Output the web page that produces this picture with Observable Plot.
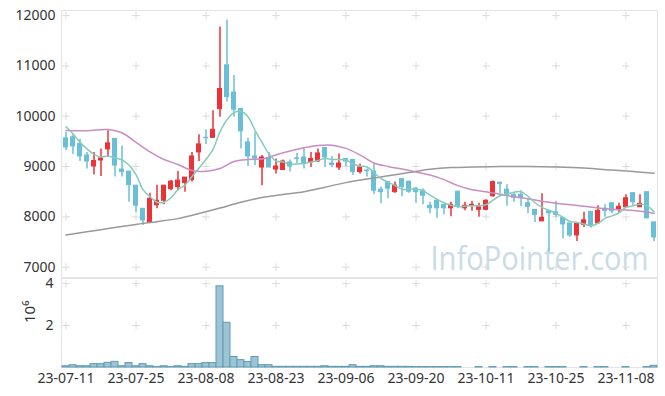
<!DOCTYPE html>
<html><head><meta charset="utf-8">
<script src="https://cdn.jsdelivr.net/npm/d3@7"></script>
<script src="https://cdn.jsdelivr.net/npm/@observablehq/plot@0.6"></script>
<style>
body{margin:0;background:#fff;font-family:"Noto Sans",sans-serif;}
#wrap{position:relative;width:665px;height:396px;overflow:hidden;}
#wrap svg{position:absolute;left:0;}
</style></head><body><div id="wrap"></div>
<script>
const dates = ["23-07-11","23-07-12","23-07-13","23-07-14","23-07-17","23-07-18","23-07-19","23-07-20","23-07-21","23-07-24",
"23-07-25","23-07-26","23-07-27","23-07-28","23-07-31","23-08-01","23-08-02","23-08-03","23-08-04","23-08-07",
"23-08-08","23-08-09","23-08-10","23-08-11","23-08-14","23-08-16","23-08-17","23-08-18","23-08-21","23-08-22",
"23-08-23","23-08-24","23-08-25","23-08-28","23-08-29","23-08-30","23-08-31","23-09-01","23-09-04","23-09-05",
"23-09-06","23-09-07","23-09-08","23-09-11","23-09-12","23-09-13","23-09-14","23-09-15","23-09-18","23-09-19",
"23-09-20","23-09-21","23-09-22","23-09-25","23-09-26","23-09-27","23-10-04","23-10-05","23-10-06","23-10-10",
"23-10-11","23-10-12","23-10-13","23-10-16","23-10-17","23-10-18","23-10-19","23-10-20","23-10-23","23-10-24",
"23-10-25","23-10-26","23-10-27","23-10-30","23-10-31","23-11-01","23-11-02","23-11-03","23-11-06","23-11-07",
"23-11-08","23-11-09","23-11-10","23-11-13","23-11-14"];
const opens = [9560,9580,9450,9220,9000,9120,9340,9550,8940,8900,
8620,8160,7890,8230,8320,8550,8590,8670,8730,9280,
9570,9570,10140,11010,10470,10140,9480,9200,8980,9170,
8940,8930,9080,9160,9180,9080,9100,9370,9060,8980,
9150,9130,8890,8920,8900,8540,8690,8490,8750,8700,
8560,8520,8220,8320,8240,8170,8500,8170,8220,8140,
8140,8410,8680,8540,8430,8440,8270,8140,7910,8110,
8090,7980,7870,7630,7840,8100,7870,8160,8270,8140,
8190,8470,8190,8490,7890];
const highs = [9680,9630,9540,9280,9280,9350,9710,9550,9410,8900,
8620,8160,8470,8630,8620,8720,8900,8780,9280,9630,
9730,10110,11770,11910,10810,10160,9560,9670,9220,9280,
9150,9130,9130,9260,9370,9280,9350,9370,9200,9250,
9150,9130,9050,8950,9050,8590,8690,8690,8750,8700,
8590,8560,8290,8320,8240,8290,8500,8290,8310,8270,
8340,8710,8680,8640,8490,8520,8360,8140,8460,8110,
8310,7980,7870,7860,8090,8100,8220,8240,8270,8270,
8440,8470,8440,8490,7890];
const lows = [9320,9240,9100,8950,8830,8800,9180,8790,8790,8290,
8080,7830,7890,8160,8240,8520,8520,8490,8690,9100,
9440,9570,9980,10280,9980,9350,9000,9020,8620,8980,
8850,8920,8890,9060,8950,8980,9080,8980,8980,8920,
9000,8820,8850,8790,8440,8260,8360,8470,8400,8470,
8270,8240,8060,7970,8040,8000,8160,8120,8110,7990,
8120,8390,8460,8210,8290,8200,8060,7890,7910,7300,
7990,7560,7590,7510,7790,7780,7870,7990,8060,8070,
8190,8220,8190,7960,7510];
const closes = [9380,9400,9200,9100,9110,9160,9460,9020,8890,8630,
8220,7930,8360,8320,8620,8700,8720,8780,9200,9440,
9560,9730,10540,10380,10130,9700,9200,9160,9180,8980,
9000,9100,9000,9150,9060,9150,9260,9180,9030,9060,
9100,8890,8980,8910,8520,8490,8560,8620,8590,8500,
8490,8420,8170,8170,8170,8240,8220,8220,8240,8190,
8320,8690,8650,8420,8380,8380,8200,8040,7980,8070,
8040,7850,7630,7860,7930,7830,8120,8120,8110,8200,
8370,8290,8260,7970,7590];
const ma5 = [9790,9650,9480,9350,9240,9190,9210,9170,9130,9030,
8840,8540,8400,8290,8290,8380,8540,8630,8800,8970,
9140,9340,9690,9930,10070,10100,9990,9720,9480,9250,
9110,9090,9050,9050,9060,9090,9120,9160,9140,9140,
9130,9050,9010,8990,8880,8760,8690,8620,8550,8550,
8550,8520,8430,8350,8280,8230,8200,8210,8220,8220,
8240,8330,8420,8450,8490,8500,8410,8280,8190,8130,
8070,7990,7910,7890,7860,7820,7870,7970,8020,8080,
8190,8220,8250,8220,8100];
const ma20Idx = [0,3,6,8,10,12,14,16,18,20,22,24,26,28,30,32,34,36,38,40,42,44,46,48,50,52,54,56,58,60,62,64,66,68,70,72,74,76,78,80,82,84];
const ma20Val = [9714,9710,9735,9670,9480,9290,9140,9040,8920,8905,8960,9100,9140,9150,9230,9310,9375,9420,9425,9360,9230,9070,9000,8950,8890,8830,8740,8620,8540,8500,8450,8400,8360,8310,8270,8240,8210,8175,8150,8135,8110,8070];
const ma60Idx = [0,5,10,13,16,19,22,25,28,31,34,37,40,43,46,49,52,55,58,62,66,70,74,78,81,84];
const ma60Val = [7640,7745,7850,7905,7965,8065,8175,8290,8385,8445,8500,8590,8680,8750,8815,8880,8945,8980,8990,9000,9000,8990,8970,8930,8900,8865];
const volumes = [0.06,0.11,0.06,0.06,0.16,0.16,0.22,0.27,0.06,0.21,
0.06,0.16,0.06,0.02,0.06,0.02,0.06,0.03,0.16,0.16,
0.21,0.21,3.87,2.13,0.50,0.35,0.26,0.50,0.11,0.11,
0.03,0.03,0.03,0.03,0.03,0.03,0.03,0.06,0.03,0.03,
0.03,0.11,0.03,0.03,0.06,0.06,0.03,0.03,0.03,0.03,
0.02,0.02,0.02,0.02,0.02,0.02,0.02,0,0,0.02,
0,0.02,0,0.02,0.02,0,0.02,0.02,0,0.02,
0.02,0.02,0,0,0.02,0,0.02,0.02,0,0,
0.02,0,0,0.02,0.08];
const priceTicks = [7000,8000,9000,10000,11000,12000];
const volTicks = [2,4];
const tickDates = dates.filter((d,i)=>i%10===0);
const watermark = "InfoPointer.com";

const UP="#ec3237", DOWN="#69bfd8";
const rows = dates.map((d,i)=>({date:d,open:opens[i],high:highs[i],low:lows[i],close:closes[i],ma5:ma5[i],vol:volumes[i]}));
const ma20 = ma20Idx.map((i,k)=>({date:dates[i],v:ma20Val[k]}));
const ma60 = ma60Idx.map((i,k)=>({date:dates[i],v:ma60Val[k]}));
const col = d=>d.close>=d.open?UP:DOWN;
const priceGrid = tickDates.flatMap(d=>priceTicks.map(p=>({date:d,p})));
const volGrid = tickDates.flatMap(d=>volTicks.map(p=>({date:d,p})));

const common = {width:665, marginLeft:61, marginRight:8,
  style:{fontSize:"14px",fontFamily:"Noto Sans",color:"#333",background:"transparent"}};

const price = Plot.plot({...common, height:278, marginTop:10, marginBottom:1,
  x:{type:"band",domain:dates,padding:0,axis:null},
  y:{domain:[6795,12100],ticks:priceTicks,tickSize:0,tickPadding:6,label:null,tickFormat:d3.format("d")},
  marks:[
    Plot.text([watermark],{text:d=>d,frameAnchor:"bottom-right",dx:-9,dy:-8,textAnchor:"end",lineAnchor:"bottom",fontSize:33,fill:"#c9dce6",fontFamily:"Open Sans",className:"wm"}),
    Plot.frame({stroke:"#e4e4e4"}),
    Plot.dot(priceGrid,{x:"date",y:"p",symbol:"plus",r:2.6,stroke:"#dcdcdc",strokeWidth:1}),
    Plot.ruleX(rows,{x:"date",y1:"low",y2:"high",stroke:col,strokeWidth:1.5}),
    Plot.barY(rows,{x:"date",y1:"open",y2:"close",fill:col,stroke:col,strokeWidth:1,insetLeft:1.5,insetRight:1.5}),
    Plot.line(ma60,{x:"date",y:"v",stroke:"#999999",strokeWidth:1.5,curve:"catmull-rom"}),
    Plot.line(ma20,{x:"date",y:"v",stroke:"#c98cc3",strokeWidth:1.5,curve:"catmull-rom"}),
    Plot.line(rows,{x:"date",y:"ma5",stroke:"#86cabb",strokeWidth:1.5,curve:"catmull-rom"})
  ]});
price.style.top="0px";
price.querySelectorAll(".wm text").forEach(t=>{t.setAttribute("textLength","218");t.setAttribute("lengthAdjust","spacingAndGlyphs");});

const vol = Plot.plot({...common, height:128, marginTop:10, marginBottom:29,
  x:{type:"band",domain:dates,padding:0,ticks:tickDates,tickSize:0,tickPadding:6,label:null},
  y:{domain:[0,4.24],ticks:volTicks,tickSize:0,tickPadding:8,label:null,tickFormat:d3.format("d")},
  marks:[
    Plot.frame({stroke:"#e4e4e4"}),
    Plot.dot(volGrid,{x:"date",y:"p",symbol:"plus",r:2.6,stroke:"#dcdcdc",strokeWidth:1}),
    Plot.barY(rows,{x:"date",y:"vol",fill:"#9cc4d4",stroke:"#5e9cb5",strokeWidth:1}),
    Plot.text(["10⁶"],{text:d=>d,frameAnchor:"left",dx:-31,rotate:-90,fontSize:15,fill:"#333"})
  ]});
vol.style.top="268px";

const wrap=document.getElementById("wrap");
wrap.appendChild(vol);
wrap.appendChild(price);
</script></body></html>
